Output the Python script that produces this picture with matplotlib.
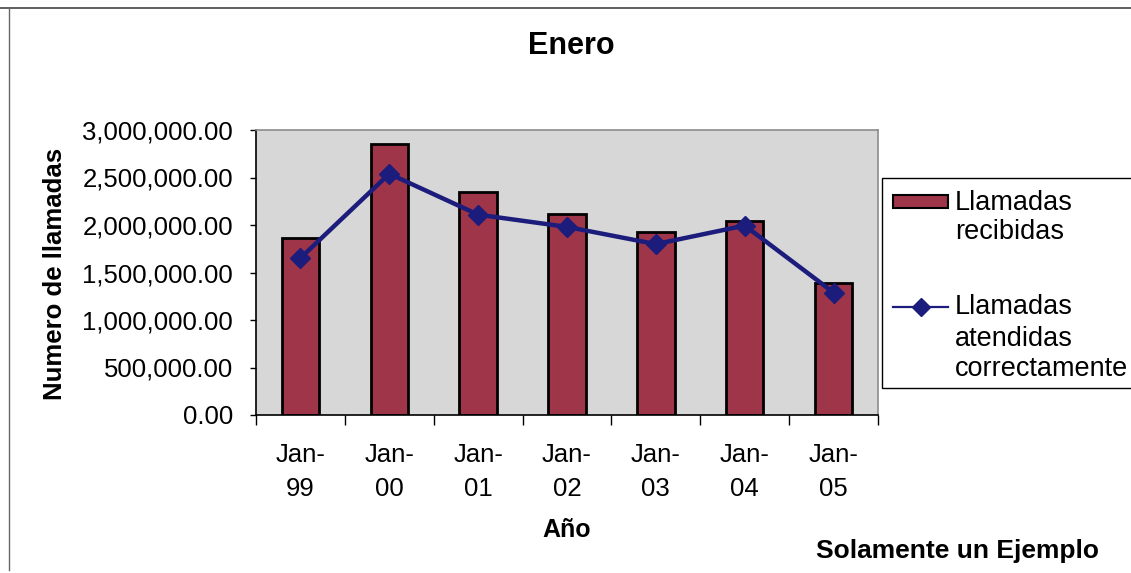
import matplotlib
matplotlib.use("Agg")
import matplotlib.pyplot as plt
from matplotlib.patches import Rectangle
from matplotlib.lines import Line2D
from matplotlib.ticker import FuncFormatter, FixedLocator

plt.rcParams['font.family'] = ['Liberation Sans', 'DejaVu Sans']

# Datos de llamadas de enero por año
years = ["Jan-\n99", "Jan-\n00", "Jan-\n01", "Jan-\n02", "Jan-\n03", "Jan-\n04", "Jan-\n05"]
received = [1858000, 2853000, 2347000, 2120000, 1924000, 2047000, 1386000]
answered = [1652000, 2539000, 2109000, 1980000, 1799000, 1994000, 1289000]
y_ticks = [0, 500000, 1000000, 1500000, 2000000, 2500000, 3000000]

W, H = 1131, 573
fig = plt.figure(figsize=(W / 100, H / 100), dpi=100)
fig.patch.set_facecolor("white")


def fx(px):
    return px / W


def fy(py):
    return 1 - py / H


# Plot area
ax = fig.add_axes([fx(256), fy(415), fx(878 - 256), (415 - 130) / H])
ax.set_facecolor("#d7d7d7")

bar_color = "#9e3549"
line_color = "#1c1c7c"
x = list(range(len(years)))

ax.bar(x, received, width=0.42, color=bar_color, edgecolor="black", linewidth=2, zorder=2)
ax.plot(x, answered, color=line_color, linewidth=3.2, marker="D", markersize=10,
        markerfacecolor=line_color, markeredgecolor=line_color, zorder=3)

ax.set_xlim(-0.5, len(years) - 0.5)
ax.set_ylim(0, 3000000)

# Y axis
ax.yaxis.set_major_locator(FixedLocator(y_ticks))
ax.yaxis.set_major_formatter(FuncFormatter(lambda v, p: f"{v:,.2f}"))
ax.tick_params(axis="y", direction="out", length=4.5, width=1, pad=12,
               labelsize=18.5, colors="black")

# X axis: tick marks between categories, labels at centres
ax.xaxis.set_major_locator(FixedLocator([i - 0.5 for i in range(len(years) + 1)]))
ax.xaxis.set_major_formatter(FuncFormatter(lambda v, p: ""))
ax.xaxis.set_minor_locator(FixedLocator(x))
ax.set_xticklabels(years, minor=True)
ax.tick_params(axis="x", which="major", direction="out", length=7, width=1)
ax.tick_params(axis="x", which="minor", length=0, pad=20, labelsize=18.5)
for lbl in ax.get_xticklabels(minor=True):
    lbl.set_linespacing(1.55)

for side in ("left", "bottom"):
    ax.spines[side].set_color("black")
    ax.spines[side].set_linewidth(1.2)
for side in ("top", "right"):
    ax.spines[side].set_color("#8c8c8c")
    ax.spines[side].set_linewidth(1.2)

# Titles and labels
fig.text(fx(571), fy(46), "Enero", ha="center", va="center", fontsize=22, fontweight="bold")
fig.text(fx(55), fy(274), "Numero de llamadas", ha="center", va="center", rotation=90,
         fontsize=18.5, fontweight="bold")
fig.text(fx(567), fy(530), "Año", ha="center", va="center", fontsize=18, fontweight="bold")
fig.text(fx(957), fy(551), "Solamente un Ejemplo", ha="center", va="center",
         fontsize=19, fontweight="bold")

# Chart border (top and left)
fig.add_artist(Line2D([fx(0), fx(W)], [fy(8), fy(8)], color="#444444", linewidth=1.2))
fig.add_artist(Line2D([fx(9), fx(9)], [fy(8), fy(570)], color="#666666", linewidth=1.0))

# Legend
fig.add_artist(Rectangle((fx(882), fy(388)), fx(1140 - 882), (388 - 178) / H,
                         facecolor="white", edgecolor="black", linewidth=1.0))
fig.add_artist(Rectangle((fx(893), fy(208)), fx(948 - 893), 13 / H,
                         facecolor=bar_color, edgecolor="black", linewidth=1.5))
fig.add_artist(Line2D([fx(893), fx(948)], [fy(307), fy(307)], color=line_color, linewidth=1.6))
fig.add_artist(Line2D([fx(920.5)], [fy(307)], color=line_color, marker="D", markersize=9,
                      markerfacecolor=line_color, markeredgecolor=line_color))
for text, yc in [("Llamadas", 203), ("recibidas", 232), ("Llamadas", 307),
                 ("atendidas", 339), ("correctamente", 369)]:
    fig.text(fx(955), fy(yc), text, ha="left", va="center", fontsize=19.5)

fig.savefig("out.png", dpi=100, facecolor="white")
